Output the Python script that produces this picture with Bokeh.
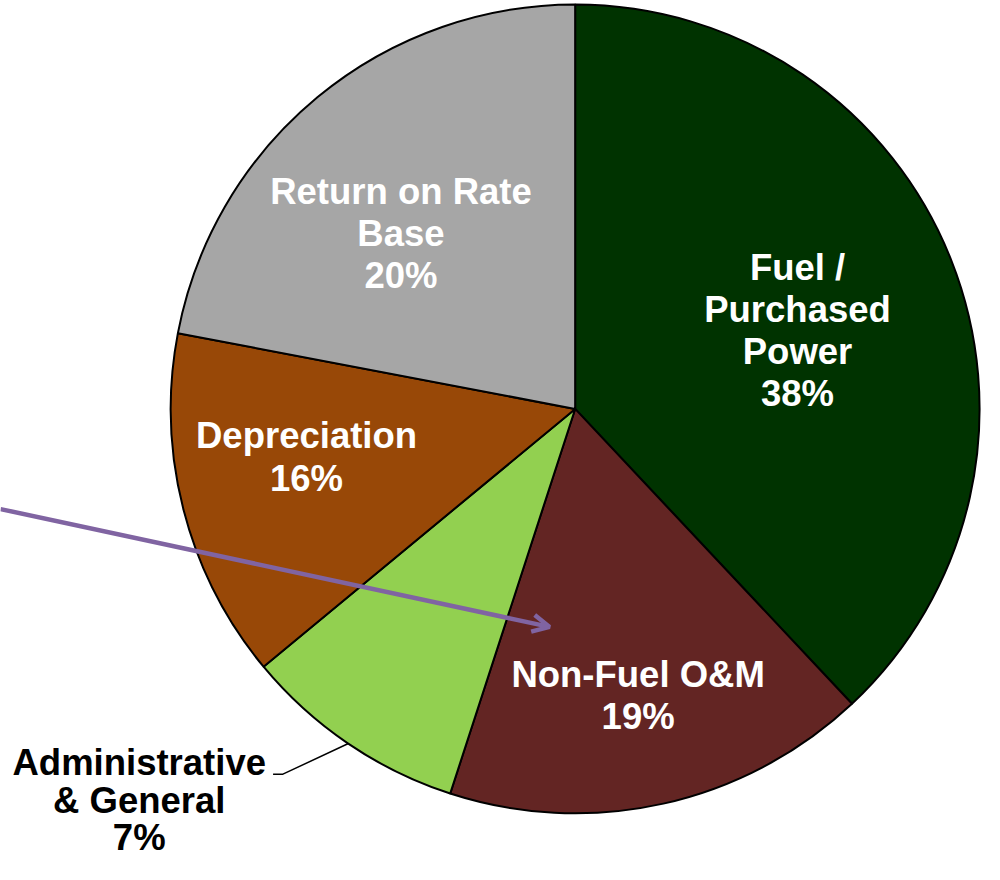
import numpy as np
from bokeh.plotting import figure
from bokeh.models import Range1d, Arrow, OpenHead, ColumnDataSource
from bokeh.core.properties import value
from bokeh.embed import file_html
from bokeh.resources import INLINE

# ---- data ----
categories = ["Fuel / Purchased Power", "Non-Fuel O&M", "Administrative & General",
              "Depreciation", "Return on Rate Base"]
slice_shares = [38, 17, 9, 14, 22]          # share of the circle as drawn
label_pcts = ["38%", "19%", "7%", "16%", "20%"]  # percentages printed on the chart
label_lines = [["Fuel /", "Purchased", "Power"], ["Non-Fuel O&M"],
               ["Administrative", "& General"], ["Depreciation"],
               ["Return on Rate", "Base"]]
colors = ["#003300", "#632523", "#92D050", "#984807", "#A6A6A6"]
text_colors = ["white", "white", "black", "white", "white"]

# ---- layout (reference-pixel coordinates, y down) ----
CX, CY, R = 584, 416, 411
# (centre x, baseline y of first line)
label_anchor = [(810, 283), (648, 698), (141, 788), (311, 455), (407, 206)]
line_h = [43, 43, 38, 43, 43]
MID_OFFSET = 11.5   # baseline -> em-box middle

p = figure(width=984, height=864, output_backend="svg", toolbar_location=None,
           x_range=Range1d(0, 1000), y_range=Range1d(-880, 0),
           x_axis_type=None, y_axis_type=None, min_border=0)
p.grid.visible = False
p.outline_line_color = None
p.background_fill_color = "white"

vals = np.array(slice_shares, dtype=float)
frac = vals / vals.sum()
cum = np.concatenate([[0], np.cumsum(frac)])
start = 90 - 360 * cum[1:]
end = 90 - 360 * cum[:-1]
src = ColumnDataSource(dict(start=start, end=end, color=colors, cat=categories))
p.wedge(x=CX, y=-CY, radius=R, start_angle="start", end_angle="end",
        start_angle_units="deg", end_angle_units="deg", direction="anticlock",
        fill_color="color", line_color="black", line_width=2, source=src)

# leader line for Administrative & General
p.line(x=[277, 287, 353], y=[-788, -788, -757], line_color="black", line_width=1.5)

# purple arrow
p.add_layout(Arrow(end=OpenHead(size=17, line_color="#8064A2", line_width=4.5),
                   x_start=0, y_start=-518, x_end=558, y_end=-638,
                   line_color="#8064A2", line_width=4.5))

xs, ys, ts, cs = [], [], [], []
for lines, pct, (ax, ay), tc, lh in zip(label_lines, label_pcts, label_anchor,
                                        text_colors, line_h):
    for i, t in enumerate(lines + [pct]):
        xs.append(ax)
        ys.append(-(ay + i * lh - MID_OFFSET))
        ts.append(t)
        cs.append(tc)
p.text(x=xs, y=ys, text=ts, text_color=cs, text_font=value("Liberation Sans"),
       text_font_style="bold", text_font_size="36.5px", text_align="center",
       text_baseline="middle")

open("out.html", "w").write(file_html(p, INLINE))
